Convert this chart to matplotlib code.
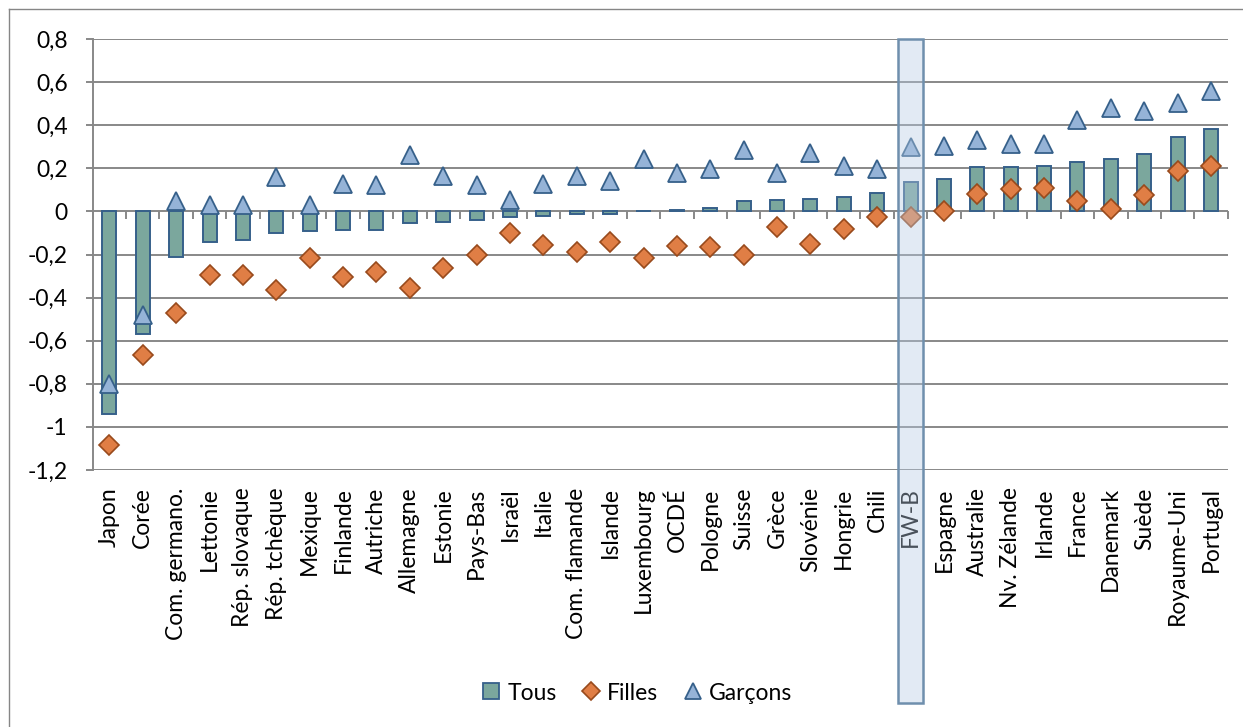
import numpy as np
import matplotlib
matplotlib.use("Agg")
import matplotlib.pyplot as plt
from matplotlib.lines import Line2D
from matplotlib.patches import Rectangle
from matplotlib.transforms import blended_transform_factory
from matplotlib.ticker import FuncFormatter, MultipleLocator

countries = [
    "Japon", "Corée", "Com. germano.", "Lettonie", "Rép. slovaque", "Rép. tchèque",
    "Mexique", "Finlande", "Autriche", "Allemagne", "Estonie", "Pays-Bas",
    "Israël", "Italie", "Com. flamande", "Islande", "Luxembourg", "OCDÉ",
    "Pologne", "Suisse", "Grèce", "Slovénie", "Hongrie", "Chili", "FW-B",
    "Espagne", "Australie", "Nv. Zélande", "Irlande", "France", "Danemark",
    "Suède", "Royaume-Uni", "Portugal",
]

tous = [
    -0.94, -0.57, -0.21, -0.14, -0.135, -0.10,
    -0.093, -0.087, -0.084, -0.053, -0.048, -0.040,
    -0.026, -0.022, -0.014, -0.011, 0.003, 0.006,
    0.015, 0.048, 0.053, 0.059, 0.068, 0.085, 0.136,
    0.150, 0.206, 0.206, 0.212, 0.229, 0.244,
    0.266, 0.345, 0.384,
]

filles = [
    -1.083, -0.668, -0.470, -0.297, -0.297, -0.367,
    -0.217, -0.305, -0.280, -0.354, -0.261, -0.200,
    -0.102, -0.158, -0.187, -0.141, -0.215, -0.159,
    -0.167, -0.201, -0.073, -0.153, -0.082, -0.026, -0.026,
    0.000, 0.082, 0.104, 0.108, 0.048, 0.009,
    0.074, 0.189, 0.210,
]

garcons = [
    -0.803, -0.483, 0.048, 0.031, 0.031, 0.159,
    0.031, 0.125, 0.122, 0.260, 0.162, 0.124,
    0.051, 0.128, 0.164, 0.139, 0.245, 0.179,
    0.195, 0.283, 0.176, 0.269, 0.212, 0.198, 0.298,
    0.303, 0.330, 0.314, 0.314, 0.422, 0.481,
    0.464, 0.501, 0.557,
]

series_names = ["Tous", "Filles", "Garçons"]
highlight = "FW-B"

W, H, DPI = 1243, 727, 100
BAR_FACE, BAR_EDGE = "#7BA79D", "#36608A"
DIA_FACE, DIA_EDGE = "#E07E45", "#984A1C"
TRI_FACE, TRI_EDGE = "#95B3D7", "#36608A"
GRID = "#888888"
FS = 16.5

plt.rcParams["font.family"] = ["Lato", "DejaVu Sans"]
plt.rcParams["font.size"] = FS

fig = plt.figure(figsize=(W / DPI, H / DPI), dpi=DPI)
ax = fig.add_axes([92.7 / W, 1 - 470 / H, (1227.7 - 92.7) / W, (470 - 39) / H])

x = np.arange(len(countries))
ax.bar(x, tous, width=0.42, color=BAR_FACE, edgecolor=BAR_EDGE, linewidth=1.4, zorder=3)
ax.plot(x, filles, linestyle="none", marker="D", markersize=10.2,
        markerfacecolor=DIA_FACE, markeredgecolor=DIA_EDGE, markeredgewidth=1.2, zorder=4)
ax.plot(x, garcons, linestyle="none", marker="^", markersize=13.5,
        markerfacecolor=TRI_FACE, markeredgecolor=TRI_EDGE, markeredgewidth=1.3, zorder=5)

ax.set_xlim(-0.5, len(countries) - 0.5)
ax.set_ylim(-1.2, 0.8)
ax.yaxis.set_major_locator(MultipleLocator(0.2))
ax.yaxis.set_major_formatter(
    FuncFormatter(lambda v, _: f"{round(v, 1):g}".replace(".", ",")))
ax.grid(axis="y", color=GRID, linewidth=1.4, zorder=0)
ax.set_axisbelow(True)

for side in ("top", "right", "bottom"):
    ax.spines[side].set_visible(False)
ax.spines["left"].set_color(GRID)
ax.spines["left"].set_linewidth(1.4)

ax.tick_params(axis="y", length=5, width=1.4, color=GRID, pad=13, labelsize=FS)
ax.set_xticks(x)
ax.set_xticklabels(countries, rotation=90, va="top", ha="center")
ax.tick_params(axis="x", length=0, pad=12.5, labelsize=FS)

# category separators along the zero line
zero_frac = (0 - (-1.2)) / 2.0
sec = ax.secondary_xaxis(zero_frac)
sec.set_xticks(np.arange(-0.5, len(countries), 1.0))
sec.tick_params(axis="x", direction="out", length=6, width=1.4, color=GRID, labelbottom=False,
                labeltop=False, bottom=True, top=False)
sec.xaxis.set_ticks_position("bottom")
sec.spines["bottom"].set_color(GRID)
sec.spines["bottom"].set_linewidth(1.4)
for side in ("top", "left", "right"):
    sec.spines[side].set_visible(False)
sec.set_xticklabels([])

# highlight box around the FW-B column, reaching down past its label
hi = countries.index(highlight)
trans = blended_transform_factory(ax.transData, fig.transFigure)
y_top = 1 - 39 / H
y_bot = 1 - 703 / H
box = Rectangle((hi - 0.375, y_bot), 0.75, y_top - y_bot, transform=trans,
                facecolor="#B8CCE4", alpha=0.4, edgecolor="none", clip_on=False, zorder=20)
box_edge = Rectangle((hi - 0.375, y_bot), 0.75, y_top - y_bot, transform=trans,
                     facecolor="none", edgecolor="#6F8FAD", linewidth=1.8, clip_on=False, zorder=21)
ax.add_patch(box)
ax.add_patch(box_edge)

# legend
handles = [
    Line2D([], [], linestyle="none", marker="s", markersize=11,
           markerfacecolor=BAR_FACE, markeredgecolor=BAR_EDGE, markeredgewidth=1.3),
    Line2D([], [], linestyle="none", marker="D", markersize=9,
           markerfacecolor=DIA_FACE, markeredgecolor=DIA_EDGE, markeredgewidth=1.2),
    Line2D([], [], linestyle="none", marker="^", markersize=12,
           markerfacecolor=TRI_FACE, markeredgecolor=TRI_EDGE, markeredgewidth=1.3),
]
fig.legend(handles, series_names, loc="center", bbox_to_anchor=(637 / W, 1 - 693 / H),
           ncol=3, frameon=False, handlelength=0.8, handletextpad=0.3, columnspacing=1.1,
           fontsize=FS)

# chart area border
fig.add_artist(Line2D([9 / W, 1.0], [1 - 9 / H, 1 - 9 / H], transform=fig.transFigure,
                      color="#868686", linewidth=1.0))
fig.add_artist(Line2D([9 / W, 9 / W], [1 - 9 / H, 0.0], transform=fig.transFigure,
                      color="#868686", linewidth=1.0))

fig.savefig("out.png", dpi=DPI)
